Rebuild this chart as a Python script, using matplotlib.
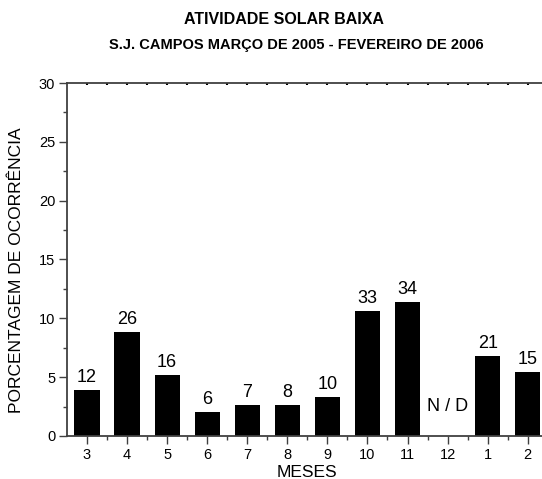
import numpy as np
import matplotlib.pyplot as plt
from matplotlib.ticker import MultipleLocator, FixedLocator

plt.rcParams['font.family'] = ['Liberation Sans', 'DejaVu Sans']

# Meses de março/2005 a fevereiro/2006
meses = ['3', '4', '5', '6', '7', '8', '9', '10', '11', '12', '1', '2']
# Porcentagem de ocorrência (dezembro sem dados)
porcentagem = [3.9, 8.8, 5.2, 2.0, 2.6, 2.6, 3.3, 10.65, 11.35, 0.0, 6.8, 5.45]
# Número de eventos em cada mês
eventos = ['12', '26', '16', '6', '7', '8', '10', '33', '34', None, '21', '15']
sem_dados = 'N / D'
nd_pos = 2.5

cor_eixo = '#404040'

fig = plt.figure(figsize=(5.42, 4.79), dpi=100)
ax = fig.add_axes([0.1236, 0.0898, 0.887, 0.7369])

x = np.arange(1, len(meses) + 1)
ax.bar(x, porcentagem, width=0.63, color='black', edgecolor='black', linewidth=0)

for xi, v, lab in zip(x, porcentagem, eventos):
    if lab is None:
        ax.text(xi, nd_pos, sem_dados, ha='center', va='center', fontsize=13)
    else:
        ax.annotate(lab, (xi, v), xytext=(0, 3), textcoords='offset points',
                    ha='center', va='bottom', fontsize=13)

ax.set_xlim(0.5, 12.5)
ax.set_ylim(0, 30)
ax.set_xticks(x)
ax.set_xticklabels(meses)
ax.xaxis.set_minor_locator(FixedLocator(np.arange(1.5, 12.5, 1)))
ax.yaxis.set_major_locator(MultipleLocator(5))
ax.yaxis.set_minor_locator(MultipleLocator(2.5))

for s in ax.spines.values():
    s.set_color(cor_eixo)
    s.set_linewidth(1.3)
ax.spines['right'].set_visible(False)

ax.tick_params(axis='both', which='major', direction='out', length=5.5,
               width=1, color=cor_eixo, labelsize=10.5, pad=3)
ax.tick_params(axis='both', which='minor', direction='out', length=3,
               width=1, color=cor_eixo)

# marcas curtas para dentro no eixo superior
topo = ax.secondary_xaxis('top')
topo.set_xticks(x)
topo.xaxis.set_minor_locator(FixedLocator(np.arange(1.5, 12.5, 1)))
topo.tick_params(which='both', direction='in', length=1.5, width=1.5,
                 color='black', labeltop=False)
topo.spines['top'].set_visible(False)

ax.set_xlabel('MESES', fontsize=12.5, labelpad=2)
ax.set_ylabel('PORCENTAGEM DE OCORRÊNCIA', fontsize=12.5)
ax.yaxis.set_label_coords(-0.104, 0.47)
ax.yaxis.label.set_va('center')

fig.text(0.524, 0.96, 'ATIVIDADE SOLAR BAIXA', ha='center', va='center',
         fontsize=11.5, fontweight='bold')
fig.text(0.546, 0.906, 'S.J. CAMPOS MARÇO DE 2005 - FEVEREIRO DE 2006',
         ha='center', va='center', fontsize=10.5, fontweight='bold')

fig.savefig('out.png', dpi=100)
